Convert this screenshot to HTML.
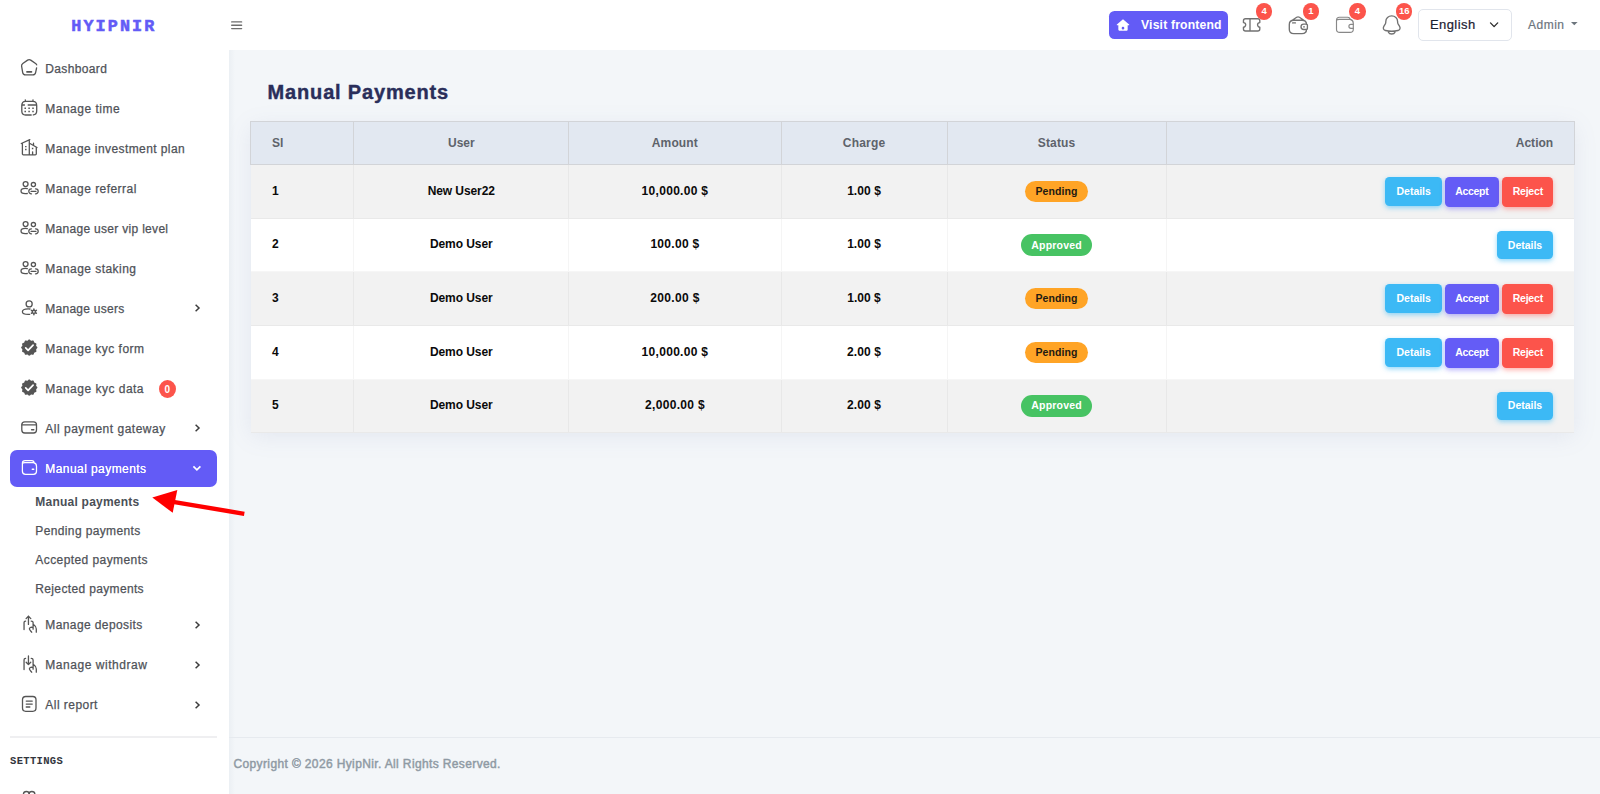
<!DOCTYPE html>
<html lang="en"><head><meta charset="utf-8"><title>Manual Payments</title>
<style>
html,body{margin:0;padding:0}
body{width:1600px;height:794px;overflow:hidden;position:relative;background:#f3f6f9;font-family:"Liberation Sans",sans-serif}
.page,.page *{position:absolute;box-sizing:border-box;margin:0;padding:0;border:0}
ul,li{list-style:none}
a{text-decoration:none;color:inherit}
.t{white-space:nowrap;line-height:20px;height:20px;font-style:normal}
.i{left:0;top:0;overflow:visible}
.sidebar{background:#fff}
.sbshadow{background:linear-gradient(90deg,rgba(170,185,200,.11),rgba(180,190,200,0))}
.topbar{background:#fff}
.plain{background:none}
.active{border-radius:7px;background:#635bf6}
.rb{border-radius:50%;background:#fc544b}
.hr{background:#efeff1}
.vbtn{border-radius:5.5px;background:#635bf6}
.sel{border:1px solid #e1e5ec;border-radius:5px;background:#fff}
.thead{border:1px solid #d2d4d8;background:#e2e8f1}
.th{border-left:1px solid #d2d4d8}
.th.first,.td.first{border-left:0}
.tr{background:#fff;border-bottom:1px solid rgba(0,0,0,.035)}
.tr.odd{background:#f2f2f2}
.td{border-left:1px solid rgba(0,0,0,.04)}
.tblshadow{box-shadow:0 4px 22px rgba(120,130,175,.13)}
.pill{border-radius:11px}
.warn{background:#ffa426}
.ok{background:#47c363}
.btn{border-radius:4.5px}
.b-info{background:#3cb9f5;box-shadow:0 2px 5px rgba(60,185,245,.55)}
.b-pri{background:#645cf6;box-shadow:0 2px 5px rgba(100,92,246,.45)}
.b-dan{background:#fc544b;box-shadow:0 2px 5px rgba(252,84,75,.45)}
.footer{border-top:1px solid #e6eaef}
</style></head>
<body>
<div class="page" style="left:0px;top:0px;width:1600px;height:794px;"><aside class="sidebar" style="left:0px;top:0px;width:229px;height:794px;"><a class="logo" style="left:0px;top:0px;width:229px;height:50px;"><span class="t" style="top:16.9px;font-size:16.8px;font-weight:700;color:#635bf6;font-family:'Liberation Mono', monospace;letter-spacing:2.08px;left:71.3px;-webkit-text-stroke:.55px #635bf6;">HYIPNIR</span></a><ul class="nav" style="left:0px;top:50px;width:229px;height:744px;"><li style="left:0px;top:-2px;width:229px;height:40px;"><a style="left:0px;top:0px;width:229px;height:40px;"><svg class="i" width="229" height="40" viewBox="0 48 229 40" fill="none" stroke="#555" stroke-width="1.3" stroke-linecap="round" stroke-linejoin="round"><path d="M36.6 67.8L35.6 72.6C35.3 74.2 34.4 74.9 32.8 74.9H25.5C23.9 74.9 23 74.2 22.7 72.6L21.6 66.2C21.4 65 21.8 64.2 22.8 63.5L27.6 60.1C28.6 59.4 29.7 59.4 30.7 60.1L35.6 63.5C36.2 63.9 36.5 64.3 36.7 64.9"/><path stroke-width="1.6" d="M26.9 71.9H31.5"/></svg><span class="t" style="top:10.9px;font-size:12px;color:#4f5258;letter-spacing:0.35px;left:45.3px;-webkit-text-stroke:.25px;">Dashboard</span></a></li>
<li style="left:0px;top:38px;width:229px;height:40px;"><a style="left:0px;top:0px;width:229px;height:40px;"><svg class="i" width="229" height="40" viewBox="0 88 229 40" fill="none" stroke="#555" stroke-width="1.3" stroke-linecap="round" stroke-linejoin="round"><path d="M31.2 115H25.6C22.9 115 21.8 113.8 21.8 111V105.4C21.8 102.5 22.9 101.3 25.6 101.3H32.9C35.6 101.3 36.7 102.5 36.7 105.4V111C36.7 113.3 35.9 114.6 33.3 114.95M25.3 101.4V99.8M33 101.4V99.8"/><path stroke-width="1.5" stroke-linecap="butt" d="M21.9 104.9H24.9M27.7 104.9H36.6"/><path stroke-width="1.5" stroke-linecap="square" d="M25.2 108.2h.01M29.1 108.2h.01M33 108.2h.01M25.2 111.4h.01M29.1 111.4h.01M33 111.4h.01"/></svg><span class="t" style="top:10.9px;font-size:12px;color:#4f5258;letter-spacing:0.49px;left:45.3px;-webkit-text-stroke:.25px;">Manage time</span></a></li>
<li style="left:0px;top:78px;width:229px;height:40px;"><a style="left:0px;top:0px;width:229px;height:40px;"><svg class="i" width="229" height="40" viewBox="0 128 229 40" fill="none" stroke="#555" stroke-width="1.3" stroke-linecap="round" stroke-linejoin="round"><path d="M22.4 154V143.9M21.3 143.5L29.8 139.6M29.3 139.9V154.8M29.5 143.3L37 147.5M36.3 147.3V154M33.5 145.2V143.2M23.4 154.8H35.3M22.4 154Q22.4 154.8 23.4 154.8M36.3 154Q36.3 154.8 35.3 154.8M32.6 154.6V151.8"/><path stroke-width="1.45" stroke-linecap="square" d="M25.8 146.6h.01M25.8 149.5h.01M32.6 148.5h.01"/></svg><span class="t" style="top:10.9px;font-size:12px;color:#4f5258;letter-spacing:0.41px;left:45.3px;-webkit-text-stroke:.25px;">Manage investment plan</span></a></li>
<li style="left:0px;top:118px;width:229px;height:40px;"><a style="left:0px;top:0px;width:229px;height:40px;"><svg class="i" width="229" height="40" viewBox="0 168 229 40" fill="none" stroke="#555" stroke-width="1.3" stroke-linecap="round" stroke-linejoin="round"><circle cx="25.6" cy="184.1" r="2.45"/><circle cx="33.4" cy="184.6" r="2.1"/><path d="M27.3 188.7C26.6 188.5 26 188.45 25.2 188.45C22.8 188.45 21 189.5 21 191.1C21 192.7 22.8 193.7 25.2 193.7C26 193.7 26.6 193.65 27.3 193.5"/><path d="M31.5 188.8h-.2a2.5 2.5 0 0 0 0 5h.2M35.5 188.8h.2a2.5 2.5 0 0 1 0 5h-.2M31 191.3h5"/></svg><span class="t" style="top:10.9px;font-size:12px;color:#4f5258;letter-spacing:0.45px;left:45.3px;-webkit-text-stroke:.25px;">Manage referral</span></a></li>
<li style="left:0px;top:158px;width:229px;height:40px;"><a style="left:0px;top:0px;width:229px;height:40px;"><svg class="i" width="229" height="40" viewBox="0 208 229 40" fill="none" stroke="#555" stroke-width="1.3" stroke-linecap="round" stroke-linejoin="round"><circle cx="25.6" cy="224.1" r="2.45"/><circle cx="33.4" cy="224.6" r="2.1"/><path d="M27.3 228.7C26.6 228.5 26 228.45 25.2 228.45C22.8 228.45 21 229.5 21 231.1C21 232.7 22.8 233.7 25.2 233.7C26 233.7 26.6 233.65 27.3 233.5"/><path d="M31.5 228.8h-.2a2.5 2.5 0 0 0 0 5h.2M35.5 228.8h.2a2.5 2.5 0 0 1 0 5h-.2M31 231.3h5"/></svg><span class="t" style="top:10.9px;font-size:12px;color:#4f5258;letter-spacing:0.3px;left:45.3px;-webkit-text-stroke:.25px;">Manage user vip level</span></a></li>
<li style="left:0px;top:198px;width:229px;height:40px;"><a style="left:0px;top:0px;width:229px;height:40px;"><svg class="i" width="229" height="40" viewBox="0 248 229 40" fill="none" stroke="#555" stroke-width="1.3" stroke-linecap="round" stroke-linejoin="round"><circle cx="25.6" cy="264.1" r="2.45"/><circle cx="33.4" cy="264.6" r="2.1"/><path d="M27.3 268.7C26.6 268.5 26 268.45 25.2 268.45C22.8 268.45 21 269.5 21 271.1C21 272.7 22.8 273.7 25.2 273.7C26 273.7 26.6 273.65 27.3 273.5"/><path d="M31.5 268.8h-.2a2.5 2.5 0 0 0 0 5h.2M35.5 268.8h.2a2.5 2.5 0 0 1 0 5h-.2M31 271.3h5"/></svg><span class="t" style="top:10.9px;font-size:12px;color:#4f5258;letter-spacing:0.46px;left:45.3px;-webkit-text-stroke:.25px;">Manage staking</span></a></li>
<li style="left:0px;top:238px;width:229px;height:40px;"><a style="left:0px;top:0px;width:229px;height:40px;"><svg class="i" width="229" height="40" viewBox="0 288 229 40" fill="none" stroke="#555" stroke-width="1.3" stroke-linecap="round" stroke-linejoin="round"><circle cx="29.15" cy="303.9" r="3.05"/><path d="M30 309C29.4 308.9 28.8 308.85 28.2 308.85C25 308.85 22.4 310 22.4 311.7C22.4 313.4 25 314.35 28.2 314.35C28.7 314.35 29.2 314.33 29.7 314.28"/><circle cx="33.9" cy="311.8" r="1.55" stroke-width="1.35"/><path stroke-width="1.45" d="M33.9 308.9v.9M33.9 313.8v.9M36.41 310.35l-.78.45M32.17 312.8l-.78.45M36.41 313.25l-.78-.45M32.17 310.8l-.78-.45"/><path stroke="#3d3d3d" stroke-width="1.5" stroke-linecap="butt" stroke-linejoin="miter" d="M195.6 304.8L199 308L195.6 311.2"/></svg><span class="t" style="top:10.9px;font-size:12px;color:#4f5258;letter-spacing:0.26px;left:45.3px;-webkit-text-stroke:.25px;">Manage users</span></a></li>
<li style="left:0px;top:278px;width:229px;height:40px;"><a style="left:0px;top:0px;width:229px;height:40px;"><svg class="i" width="229" height="40" viewBox="0 328 229 40" fill="none" stroke="#555" stroke-width="1.3" stroke-linecap="round" stroke-linejoin="round"><path fill="#555" stroke="none" d="M29.25 339.45L29.77 339.61L30.25 340.02L30.67 340.44L31.10 340.69L31.60 340.69L32.18 340.53L32.79 340.42L33.33 340.54L33.70 340.95L33.91 341.53L34.06 342.11L34.31 342.54L34.74 342.79L35.32 342.94L35.90 343.15L36.31 343.53L36.43 344.06L36.32 344.67L36.16 345.25L36.16 345.75L36.41 346.18L36.83 346.60L37.24 347.08L37.40 347.60L37.24 348.12L36.83 348.60L36.41 349.02L36.16 349.45L36.16 349.95L36.32 350.53L36.43 351.14L36.31 351.68L35.90 352.05L35.32 352.26L34.74 352.41L34.31 352.66L34.06 353.09L33.91 353.67L33.70 354.25L33.33 354.66L32.79 354.78L32.18 354.67L31.60 354.51L31.10 354.51L30.67 354.76L30.25 355.18L29.77 355.59L29.25 355.75L28.73 355.59L28.25 355.18L27.83 354.76L27.40 354.51L26.90 354.51L26.32 354.67L25.71 354.78L25.18 354.66L24.80 354.25L24.59 353.67L24.44 353.09L24.19 352.66L23.76 352.41L23.18 352.26L22.60 352.05L22.19 351.68L22.07 351.14L22.18 350.53L22.34 349.95L22.34 349.45L22.09 349.02L21.67 348.60L21.26 348.12L21.10 347.60L21.26 347.08L21.67 346.60L22.09 346.18L22.34 345.75L22.34 345.25L22.18 344.67L22.07 344.06L22.19 343.53L22.60 343.15L23.18 342.94L23.76 342.79L24.19 342.54L24.44 342.11L24.59 341.53L24.80 340.95L25.17 340.54L25.71 340.42L26.32 340.53L26.90 340.69L27.40 340.69L27.83 340.44L28.25 340.02L28.73 339.61Z"/><path stroke="#fff" stroke-width="1.7" d="M25.7 347.9l2.4 2.4 5-5.1"/></svg><span class="t" style="top:10.9px;font-size:12px;color:#4f5258;letter-spacing:0.48px;left:45.3px;-webkit-text-stroke:.25px;">Manage kyc form</span></a></li>
<li style="left:0px;top:318px;width:229px;height:40px;"><a style="left:0px;top:0px;width:229px;height:40px;"><svg class="i" width="229" height="40" viewBox="0 368 229 40" fill="none" stroke="#555" stroke-width="1.3" stroke-linecap="round" stroke-linejoin="round"><path fill="#555" stroke="none" d="M29.25 379.45L29.77 379.61L30.25 380.02L30.67 380.44L31.10 380.69L31.60 380.69L32.18 380.53L32.79 380.42L33.33 380.54L33.70 380.95L33.91 381.53L34.06 382.11L34.31 382.54L34.74 382.79L35.32 382.94L35.90 383.15L36.31 383.53L36.43 384.06L36.32 384.67L36.16 385.25L36.16 385.75L36.41 386.18L36.83 386.60L37.24 387.08L37.40 387.60L37.24 388.12L36.83 388.60L36.41 389.02L36.16 389.45L36.16 389.95L36.32 390.53L36.43 391.14L36.31 391.68L35.90 392.05L35.32 392.26L34.74 392.41L34.31 392.66L34.06 393.09L33.91 393.67L33.70 394.25L33.33 394.66L32.79 394.78L32.18 394.67L31.60 394.51L31.10 394.51L30.67 394.76L30.25 395.18L29.77 395.59L29.25 395.75L28.73 395.59L28.25 395.18L27.83 394.76L27.40 394.51L26.90 394.51L26.32 394.67L25.71 394.78L25.18 394.66L24.80 394.25L24.59 393.67L24.44 393.09L24.19 392.66L23.76 392.41L23.18 392.26L22.60 392.05L22.19 391.68L22.07 391.14L22.18 390.53L22.34 389.95L22.34 389.45L22.09 389.02L21.67 388.60L21.26 388.12L21.10 387.60L21.26 387.08L21.67 386.60L22.09 386.18L22.34 385.75L22.34 385.25L22.18 384.67L22.07 384.06L22.19 383.53L22.60 383.15L23.18 382.94L23.76 382.79L24.19 382.54L24.44 382.11L24.59 381.53L24.80 380.95L25.17 380.54L25.71 380.42L26.32 380.53L26.90 380.69L27.40 380.69L27.83 380.44L28.25 380.02L28.73 379.61Z"/><path stroke="#fff" stroke-width="1.7" d="M25.7 387.9l2.4 2.4 5-5.1"/></svg><span class="t" style="top:10.9px;font-size:12px;color:#4f5258;letter-spacing:0.49px;left:45.3px;-webkit-text-stroke:.25px;">Manage kyc data</span><span class="rb" style="left:158.9px;top:11.9px;width:17px;height:18.2px;"><span class="t" style="top:-0.3px;font-size:10px;font-weight:700;color:#fff;left:-191.5px;width:400px;text-align:center;">0</span></span></a></li>
<li style="left:0px;top:358px;width:229px;height:40px;"><a style="left:0px;top:0px;width:229px;height:40px;"><svg class="i" width="229" height="40" viewBox="0 408 229 40" fill="none" stroke="#555" stroke-width="1.3" stroke-linecap="round" stroke-linejoin="round"><rect x="21.8" y="421.8" width="14.7" height="11.2" rx="3"/><path stroke-width="1.35" d="M22 424.9H36.3"/><path stroke-width="1.4" d="M31.6 429.7H33.8"/><path stroke="#3d3d3d" stroke-width="1.5" stroke-linecap="butt" stroke-linejoin="miter" d="M195.6 424.8L199 428L195.6 431.2"/></svg><span class="t" style="top:10.9px;font-size:12px;color:#4f5258;letter-spacing:0.51px;left:45.3px;-webkit-text-stroke:.25px;">All payment gateway</span></a></li>
<li style="left:0px;top:398px;width:229px;height:40px;"><a class="active" style="left:10px;top:2px;width:206.5px;height:36.5px;"><svg class="i" width="206.5" height="36.5" viewBox="10 450 206.5 36.5" fill="none" stroke="#fff" stroke-width="1.3" stroke-linecap="round" stroke-linejoin="round"><path stroke-width="1.25" d="M22.4 463.3C22.4 461.5 23.4 460.6 25.2 460.6H31.8C33.3 460.6 34.1 461.4 34.1 462.9C35.8 463.3 36.5 464.5 36.5 466.2V471.3C36.5 473.3 35.4 474.3 33.4 474.3H25.5C23.5 474.3 22.4 473.3 22.4 471.3ZM22.5 463.3C23 462.8 23.8 462.6 24.8 462.6H34"/><path stroke-width="1.5" d="M32.3 469.3H33.7"/><path stroke-width="1.7" stroke-linecap="butt" stroke-linejoin="miter" d="M193.4 466.4L196.9 469.9L200.4 466.4"/></svg><span class="t" style="top:8.8px;font-size:12px;color:#fff;letter-spacing:0.43px;left:35.3px;text-shadow:0 0 .4px #fff;">Manual payments</span></a><ul class="sub" style="left:0px;top:39px;width:229px;height:117px;"><li style="left:0px;top:0.7px;width:229px;height:29px;"><a style="left:0px;top:0px;width:229px;height:29px;"><span class="t" style="top:4.5px;font-size:12px;font-weight:700;color:#4a4f57;letter-spacing:0.23px;left:35.3px;">Manual payments</span></a></li>
<li style="left:0px;top:29.9px;width:229px;height:29px;"><a style="left:0px;top:0px;width:229px;height:29px;"><span class="t" style="top:4.5px;font-size:12px;color:#4f5258;letter-spacing:0.37px;left:35.3px;-webkit-text-stroke:.25px;">Pending payments</span></a></li>
<li style="left:0px;top:58.7px;width:229px;height:29px;"><a style="left:0px;top:0px;width:229px;height:29px;"><span class="t" style="top:4.5px;font-size:12px;color:#4f5258;letter-spacing:0.42px;left:35.3px;-webkit-text-stroke:.25px;">Accepted payments</span></a></li>
<li style="left:0px;top:87.8px;width:229px;height:29px;"><a style="left:0px;top:0px;width:229px;height:29px;"><span class="t" style="top:4.5px;font-size:12px;color:#4f5258;letter-spacing:0.35px;left:35.3px;-webkit-text-stroke:.25px;">Rejected payments</span></a></li>
</ul></li>
<li style="left:0px;top:555px;width:229px;height:40px;"><a style="left:0px;top:0px;width:229px;height:40px;"><svg class="i" width="229" height="40" viewBox="0 605 229 40" fill="none" stroke="#555" stroke-width="1.3" stroke-linecap="round" stroke-linejoin="round"><path d="M25.6 621.1Q24.05 621.2 24.05 622.4V629.6M28.45 616.1V624.4M26.1 618.6L28.45 616.1L30.8 618.6M31.2 621.1Q33.1 621.2 33.1 622.6V629.2M33.3 624.2C35 625.4 36.3 627 36.3 629V632.2M33 627.5C31.5 626.9 29.7 627.5 29.4 628.7C29.2 629.8 30.5 630.8 31.7 632.2"/><path stroke="#3d3d3d" stroke-width="1.5" stroke-linecap="butt" stroke-linejoin="miter" d="M195.6 621.8L199 625L195.6 628.2"/></svg><span class="t" style="top:10.3px;font-size:12px;color:#4f5258;letter-spacing:0.4px;left:45.3px;-webkit-text-stroke:.25px;">Manage deposits</span></a></li>
<li style="left:0px;top:595px;width:229px;height:40px;"><a style="left:0px;top:0px;width:229px;height:40px;"><svg class="i" width="229" height="40" viewBox="0 645 229 40" fill="none" stroke="#555" stroke-width="1.3" stroke-linecap="round" stroke-linejoin="round"><path d="M25.6 658.4Q24.05 658.5 24.05 659.7V669.6M28.45 656V664.5M26.15 662.2L28.45 664.6L30.75 662.2M31.2 658.4Q33.1 658.5 33.1 659.9V669.2M33.3 664.2C35 665.4 36.3 667 36.3 669V672.2M33 667.5C31.5 666.9 29.7 667.5 29.4 668.7C29.2 669.8 30.5 670.8 31.7 672.2"/><path stroke="#3d3d3d" stroke-width="1.5" stroke-linecap="butt" stroke-linejoin="miter" d="M195.6 661.8L199 665L195.6 668.2"/></svg><span class="t" style="top:10.3px;font-size:12px;color:#4f5258;letter-spacing:0.54px;left:45.3px;-webkit-text-stroke:.25px;">Manage withdraw</span></a></li>
<li style="left:0px;top:635px;width:229px;height:40px;"><a style="left:0px;top:0px;width:229px;height:40px;"><svg class="i" width="229" height="40" viewBox="0 685 229 40" fill="none" stroke="#555" stroke-width="1.3" stroke-linecap="round" stroke-linejoin="round"><rect x="22.5" y="696.5" width="13.5" height="14.8" rx="3.2"/><path stroke-width="1.45" d="M26.3 701.1H32.2M26.3 704.1H32.2M26.3 707H29.8"/><path stroke="#3d3d3d" stroke-width="1.5" stroke-linecap="butt" stroke-linejoin="miter" d="M195.6 701.8L199 705L195.6 708.2"/></svg><span class="t" style="top:10.3px;font-size:12px;color:#4f5258;letter-spacing:0.46px;left:45.3px;-webkit-text-stroke:.25px;">All report</span></a></li>
</ul><hr class="hr" style="left:10px;top:736px;width:207px;height:1.5px;"></hr><h6 class="sect" style="left:0px;top:745px;width:229px;height:32px;"><span class="t" style="top:6.3px;font-size:10.5px;font-weight:700;color:#33363d;font-family:'Liberation Mono', monospace;letter-spacing:0.33px;left:10px;">SETTINGS</span></h6><a style="left:0px;top:780px;width:229px;height:14px;"><svg class="i" width="229" height="14" viewBox="0 780 229 14" fill="none" stroke="#555" stroke-width="1.3" stroke-linecap="round" stroke-linejoin="round"><circle cx="26.4" cy="794.5" r="3"/><circle cx="31.9" cy="794.5" r="3"/></svg></a></aside>
<header class="topbar" style="left:229px;top:0px;width:1371px;height:50px;"><button class="plain" style="left:0px;top:15px;width:20px;height:20px;"><svg class="i" width="20" height="20" viewBox="229 15 20 20" fill="none" stroke="#6e6e6e" stroke-width="1.4" stroke-linecap="round" stroke-linejoin="round" stroke-linecap="butt"><path d="M231.7 21.9H241.6M231.7 25.25H241.6M231.7 28.6H241.6"/></svg></button><a class="vbtn" style="left:880px;top:11px;width:119px;height:28px;"><svg class="i" style="left:7px;top:7px" width="14" height="14" viewBox="0 0 24 24"><path fill="#fff" fill-rule="evenodd" d="M12 2.2 1.5 11.3c-.5.5-.2 1.3.5 1.3H4v7.6c0 .9.7 1.6 1.6 1.6h12.800c.9 0 1.6-.7 1.6-1.6v-7.6h2c.7 0 1-.8.5-1.3L12 2.2ZM12 15.2a2.3 2.3 0 1 0 0 4.6a2.3 2.3 0 1 0 0-4.6Z"/></svg><span class="t" style="top:4.1px;font-size:12.2px;font-weight:700;color:#fff;letter-spacing:0.17px;left:32px;">Visit frontend</span></a><a style="left:1007px;top:0px;width:40px;height:50px;"><svg class="i" width="40" height="50" viewBox="1236 0 40 50" fill="none" stroke="#717171" stroke-width="1.35" stroke-linecap="round" stroke-linejoin="round"><path d="M1245.5 18.7H1257.8Q1259.8 18.7 1259.8 20.7V22.6A2.25 2.25 0 0 0 1259.8 27.1V29Q1259.8 31 1257.8 31H1245.5Q1243.45 31 1243.45 29V27.1A2.25 2.25 0 0 0 1243.45 22.6V20.7Q1243.45 18.7 1245.5 18.7ZM1250 18.7V31"/></svg><span class="rb" style="left:19.85px;top:3px;width:16.5px;height:16.5px;"><span class="t" style="top:-1.6px;font-size:9.5px;font-weight:700;color:#fff;left:-191.75px;width:400px;text-align:center;">4</span></span></a><a style="left:1053px;top:0px;width:40px;height:50px;"><svg class="i" width="40" height="50" viewBox="1282 0 40 50" fill="none" stroke="#717171" stroke-width="1.35" stroke-linecap="round" stroke-linejoin="round"><path d="M1293.8 20.2H1302C1305 20.2 1306.5 21.7 1306.5 24.3M1306.5 29.5C1306.5 32.2 1305 33.6 1302 33.6H1293.8C1290.8 33.6 1289.3 32.2 1289.3 29.2V24.6C1289.3 21.7 1290.8 20.2 1293.8 20.2M1292.6 20L1296.7 17.3C1297.6 16.7 1298.5 16.7 1299.4 17.3L1303.5 20M1292.6 22.9H1295.4"/><path d="M1303.8 24.1H1306.3C1306.9 24.1 1307.4 24.5 1307.4 25.1V28.5C1307.4 29.1 1306.9 29.5 1306.3 29.5H1303.8C1302.2 29.5 1301 28.3 1301 26.8C1301 25.3 1302.2 24.1 1303.8 24.1Z"/><path stroke-width="1.7" d="M1304 26.8h.01"/></svg><span class="rb" style="left:20.55px;top:3px;width:16.5px;height:16.5px;"><span class="t" style="top:-1.6px;font-size:9.5px;font-weight:700;color:#fff;left:-191.75px;width:400px;text-align:center;">1</span></span></a><a style="left:1100px;top:0px;width:40px;height:50px;"><svg class="i" width="40" height="50" viewBox="1329 0 40 50" fill="none" stroke="#717171" stroke-width="1.35" stroke-linecap="round" stroke-linejoin="round"><g stroke="#888" stroke-width="1.15"><path d="M1336.5 20.2C1336.5 18.2 1337.5 17.2 1339.5 17.2H1347.6C1349.3 17.2 1350.1 18 1350.2 19.4C1352.3 19.9 1353.3 21.2 1353.3 23.3V29.2C1353.3 31.4 1352.2 32.4 1350 32.4H1339.8C1337.6 32.4 1336.5 31.4 1336.5 29.2ZM1336.6 20.2C1337.2 19.6 1338 19.3 1339.2 19.3H1350.1"/><path d="M1353.3 24.3H1350.9C1349.7 24.3 1348.9 25.2 1348.9 26.3C1348.9 27.4 1349.7 28.3 1350.9 28.3H1353.3"/></g></svg><span class="rb" style="left:20.25px;top:3px;width:16.5px;height:16.5px;"><span class="t" style="top:-1.6px;font-size:9.5px;font-weight:700;color:#fff;left:-191.75px;width:400px;text-align:center;">4</span></span></a><a style="left:1147px;top:0px;width:40px;height:50px;"><svg class="i" width="40" height="50" viewBox="1376 0 40 50" fill="none" stroke="#717171" stroke-width="1.35" stroke-linecap="round" stroke-linejoin="round"><path d="M1397.6 22V21.4C1397.6 18.2 1395 15.85 1391.7 15.85C1388.4 15.85 1385.8 18.2 1385.8 21.4V22C1385.8 22.8 1385.6 23.5 1385.2 24.2L1384.1 25.9C1382.7 28.1 1383.3 30 1385.4 30.5C1389.6 31.5 1393.8 31.5 1398 30.5C1400.1 30 1400.7 28.1 1399.3 25.9L1398.2 24.2C1397.8 23.5 1397.6 22.8 1397.6 22ZM1388.4 32.2C1388.9 33.3 1390.2 34 1391.7 34C1393.2 34 1394.5 33.3 1395 32.2"/></svg><span class="rb" style="left:19.95px;top:3px;width:16.5px;height:16.5px;"><span class="t" style="top:-1.6px;font-size:9.5px;font-weight:700;color:#fff;left:-191.75px;width:400px;text-align:center;">16</span></span></a><div class="sel" style="left:1189px;top:9px;width:93.5px;height:32px;" role="combobox"><span class="t" style="top:5.4px;font-size:13px;color:#1b2130;letter-spacing:0.44px;left:10.9px;-webkit-text-stroke:.2px;">English</span><svg class="i" style="left:69px;top:10px" width="12" height="10" viewBox="1488 20 12 10"><path d="M1490.5 22.9 1494.1 26.6l3.6-3.7" stroke="#2b2b2b" stroke-width="1.35" fill="none" stroke-linecap="round" stroke-linejoin="round"/></svg></div><a style="left:1291px;top:10px;width:64px;height:30px;"><span class="t" style="top:5.2px;font-size:12px;color:#6c757d;letter-spacing:0.5px;left:8px;-webkit-text-stroke:.2px;">Admin</span><svg class="i" style="left:51px;top:12.1px" width="7" height="4" viewBox="0 0 7 4"><path d="M0 0h6.6L3.3 3.3Z" fill="#6c757d"/></svg></a></header>
<main class="main" style="left:229px;top:50px;width:1371px;height:744px;"><div class="sbshadow" style="left:0px;top:0px;width:6px;height:744px;"></div><h1 style="left:21px;top:26px;width:400px;height:32px;"><span class="t" style="top:6px;font-size:20px;font-weight:700;color:#2a2e5a;letter-spacing:0.83px;left:17.6px;-webkit-text-stroke:.4px;">Manual Payments</span></h1><div class="table" style="left:21px;top:71px;width:1325px;height:311.5px;" role="table"><div class="tblshadow" style="left:1px;top:2px;width:1323px;height:309px;"></div><div class="thead" style="left:0px;top:0px;width:1325px;height:44px;" role="row">
<div class="th first" style="left:0px;top:0px;width:102px;height:42px;" role="columnheader"><span class="t" style="top:10.8px;font-size:12px;font-weight:700;color:#5e636b;left:21px;">Sl</span></div><div class="th" style="left:102px;top:0px;width:215px;height:42px;" role="columnheader"><span class="t" style="top:10.8px;font-size:12px;font-weight:700;color:#5e636b;letter-spacing:0px;left:-92.7px;width:400px;text-align:center;">User</span></div><div class="th" style="left:317px;top:0px;width:213px;height:42px;" role="columnheader"><span class="t" style="top:10.8px;font-size:12px;font-weight:700;color:#5e636b;letter-spacing:0.13px;left:-94.13px;width:400px;text-align:center;">Amount</span></div><div class="th" style="left:530px;top:0px;width:166px;height:42px;" role="columnheader"><span class="t" style="top:10.8px;font-size:12px;font-weight:700;color:#5e636b;letter-spacing:0.23px;left:-117.88px;width:400px;text-align:center;">Charge</span></div><div class="th" style="left:696px;top:0px;width:219px;height:42px;" role="columnheader"><span class="t" style="top:10.8px;font-size:12px;font-weight:700;color:#5e636b;letter-spacing:0.16px;left:-91.42px;width:400px;text-align:center;">Status</span></div><div class="th" style="left:915px;top:0px;width:408px;height:42px;" role="columnheader"><span class="t" style="top:10.8px;font-size:12px;font-weight:700;color:#5e636b;letter-spacing:0.03px;left:-13.77px;width:400px;text-align:right;">Action</span></div></div><div class="tr odd" style="left:0.5px;top:44px;width:1323.5px;height:54px;" role="row">
<div class="td first" style="left:0px;top:0px;width:102.5px;height:53px;" role="cell"><span class="t" style="top:15.6px;font-size:12px;font-weight:700;color:#0a0a0a;left:21.5px;">1</span></div><div class="td" style="left:102.5px;top:0px;width:215px;height:53px;" role="cell"><span class="t" style="top:15.6px;font-size:12px;font-weight:700;color:#0a0a0a;letter-spacing:-0.08px;left:-92.74px;width:400px;text-align:center;">New User22</span></div><div class="td" style="left:317.5px;top:0px;width:213px;height:53px;" role="cell"><span class="t" style="top:15.6px;font-size:12px;font-weight:700;color:#0a0a0a;letter-spacing:0.31px;left:-94.05px;width:400px;text-align:center;">10,000.00 $</span></div><div class="td" style="left:530.5px;top:0px;width:166px;height:53px;" role="cell"><span class="t" style="top:15.6px;font-size:12px;font-weight:700;color:#0a0a0a;letter-spacing:0.07px;left:-117.97px;width:400px;text-align:center;">1.00 $</span></div><div class="td" style="left:696.5px;top:0px;width:219px;height:53px;" role="cell"><span class="pill warn" style="left:77px;top:15.6px;width:63px;height:21.8px;"><span class="t" style="top:0.5px;font-size:10.5px;font-weight:700;color:#231b12;letter-spacing:0.1px;left:-168.45px;width:400px;text-align:center;">Pending</span></span></div><div class="td" style="left:915.5px;top:0px;width:408px;height:53px;" role="cell"><a class="btn b-info" style="left:218px;top:12.3px;width:56.5px;height:28.3px;"><span class="t" style="top:3.9px;font-size:10.5px;font-weight:700;color:#fff;letter-spacing:-0.02px;left:-171.31px;width:400px;text-align:center;">Details</span></a><a class="btn b-pri" style="left:278px;top:11.8px;width:54px;height:30px;"><span class="t" style="top:4.4px;font-size:10.5px;font-weight:700;color:#fff;letter-spacing:-0.34px;left:-173.17px;width:400px;text-align:center;">Accept</span></a><a class="btn b-dan" style="left:335.3px;top:11.8px;width:51px;height:30px;"><span class="t" style="top:4.4px;font-size:10.5px;font-weight:700;color:#fff;letter-spacing:-0.2px;left:-174.5px;width:400px;text-align:center;">Reject</span></a></div></div><div class="tr" style="left:0.5px;top:98px;width:1323.5px;height:53px;" role="row">
<div class="td first" style="left:0px;top:0px;width:102.5px;height:52px;" role="cell"><span class="t" style="top:15.1px;font-size:12px;font-weight:700;color:#0a0a0a;left:21.5px;">2</span></div><div class="td" style="left:102.5px;top:0px;width:215px;height:52px;" role="cell"><span class="t" style="top:15.1px;font-size:12px;font-weight:700;color:#0a0a0a;letter-spacing:-0.08px;left:-92.74px;width:400px;text-align:center;">Demo User</span></div><div class="td" style="left:317.5px;top:0px;width:213px;height:52px;" role="cell"><span class="t" style="top:15.1px;font-size:12px;font-weight:700;color:#0a0a0a;letter-spacing:0.3px;left:-94.05px;width:400px;text-align:center;">100.00 $</span></div><div class="td" style="left:530.5px;top:0px;width:166px;height:52px;" role="cell"><span class="t" style="top:15.1px;font-size:12px;font-weight:700;color:#0a0a0a;letter-spacing:0.07px;left:-117.97px;width:400px;text-align:center;">1.00 $</span></div><div class="td" style="left:696.5px;top:0px;width:219px;height:52px;" role="cell"><span class="pill ok" style="left:73px;top:15.1px;width:71px;height:21.8px;"><span class="t" style="top:0.5px;font-size:10.5px;font-weight:700;color:#fff;letter-spacing:0.18px;left:-164.41px;width:400px;text-align:center;">Approved</span></span></div><div class="td" style="left:915.5px;top:0px;width:408px;height:52px;" role="cell"><a class="btn b-info" style="left:329.5px;top:11.9px;width:56.5px;height:28px;"><span class="t" style="top:3.8px;font-size:10.5px;font-weight:700;color:#fff;letter-spacing:-0.02px;left:-171.51px;width:400px;text-align:center;">Details</span></a></div></div><div class="tr odd" style="left:0.5px;top:151px;width:1323.5px;height:54px;" role="row">
<div class="td first" style="left:0px;top:0px;width:102.5px;height:53px;" role="cell"><span class="t" style="top:15.6px;font-size:12px;font-weight:700;color:#0a0a0a;left:21.5px;">3</span></div><div class="td" style="left:102.5px;top:0px;width:215px;height:53px;" role="cell"><span class="t" style="top:15.6px;font-size:12px;font-weight:700;color:#0a0a0a;letter-spacing:-0.08px;left:-92.74px;width:400px;text-align:center;">Demo User</span></div><div class="td" style="left:317.5px;top:0px;width:213px;height:53px;" role="cell"><span class="t" style="top:15.6px;font-size:12px;font-weight:700;color:#0a0a0a;letter-spacing:0.34px;left:-94.03px;width:400px;text-align:center;">200.00 $</span></div><div class="td" style="left:530.5px;top:0px;width:166px;height:53px;" role="cell"><span class="t" style="top:15.6px;font-size:12px;font-weight:700;color:#0a0a0a;letter-spacing:0.03px;left:-117.99px;width:400px;text-align:center;">1.00 $</span></div><div class="td" style="left:696.5px;top:0px;width:219px;height:53px;" role="cell"><span class="pill warn" style="left:77px;top:15.6px;width:63px;height:21.8px;"><span class="t" style="top:0.5px;font-size:10.5px;font-weight:700;color:#231b12;letter-spacing:0.1px;left:-168.45px;width:400px;text-align:center;">Pending</span></span></div><div class="td" style="left:915.5px;top:0px;width:408px;height:53px;" role="cell"><a class="btn b-info" style="left:218px;top:12.3px;width:56.5px;height:28.3px;"><span class="t" style="top:3.9px;font-size:10.5px;font-weight:700;color:#fff;letter-spacing:-0.02px;left:-171.31px;width:400px;text-align:center;">Details</span></a><a class="btn b-pri" style="left:278px;top:11.8px;width:54px;height:30px;"><span class="t" style="top:4.4px;font-size:10.5px;font-weight:700;color:#fff;letter-spacing:-0.34px;left:-173.17px;width:400px;text-align:center;">Accept</span></a><a class="btn b-dan" style="left:335.3px;top:11.8px;width:51px;height:30px;"><span class="t" style="top:4.4px;font-size:10.5px;font-weight:700;color:#fff;letter-spacing:-0.2px;left:-174.5px;width:400px;text-align:center;">Reject</span></a></div></div><div class="tr" style="left:0.5px;top:205px;width:1323.5px;height:54px;" role="row">
<div class="td first" style="left:0px;top:0px;width:102.5px;height:53px;" role="cell"><span class="t" style="top:15.6px;font-size:12px;font-weight:700;color:#0a0a0a;left:21.5px;">4</span></div><div class="td" style="left:102.5px;top:0px;width:215px;height:53px;" role="cell"><span class="t" style="top:15.6px;font-size:12px;font-weight:700;color:#0a0a0a;letter-spacing:-0.08px;left:-92.74px;width:400px;text-align:center;">Demo User</span></div><div class="td" style="left:317.5px;top:0px;width:213px;height:53px;" role="cell"><span class="t" style="top:15.6px;font-size:12px;font-weight:700;color:#0a0a0a;letter-spacing:0.31px;left:-94.05px;width:400px;text-align:center;">10,000.00 $</span></div><div class="td" style="left:530.5px;top:0px;width:166px;height:53px;" role="cell"><span class="t" style="top:15.6px;font-size:12px;font-weight:700;color:#0a0a0a;letter-spacing:0.09px;left:-117.96px;width:400px;text-align:center;">2.00 $</span></div><div class="td" style="left:696.5px;top:0px;width:219px;height:53px;" role="cell"><span class="pill warn" style="left:77px;top:15.6px;width:63px;height:21.8px;"><span class="t" style="top:0.5px;font-size:10.5px;font-weight:700;color:#231b12;letter-spacing:0.1px;left:-168.45px;width:400px;text-align:center;">Pending</span></span></div><div class="td" style="left:915.5px;top:0px;width:408px;height:53px;" role="cell"><a class="btn b-info" style="left:218px;top:12.3px;width:56.5px;height:28.3px;"><span class="t" style="top:3.9px;font-size:10.5px;font-weight:700;color:#fff;letter-spacing:-0.02px;left:-171.31px;width:400px;text-align:center;">Details</span></a><a class="btn b-pri" style="left:278px;top:11.8px;width:54px;height:30px;"><span class="t" style="top:4.4px;font-size:10.5px;font-weight:700;color:#fff;letter-spacing:-0.34px;left:-173.17px;width:400px;text-align:center;">Accept</span></a><a class="btn b-dan" style="left:335.3px;top:11.8px;width:51px;height:30px;"><span class="t" style="top:4.4px;font-size:10.5px;font-weight:700;color:#fff;letter-spacing:-0.2px;left:-174.5px;width:400px;text-align:center;">Reject</span></a></div></div><div class="tr odd" style="left:0.5px;top:259px;width:1323.5px;height:52.5px;" role="row">
<div class="td first" style="left:0px;top:0px;width:102.5px;height:51.5px;" role="cell"><span class="t" style="top:14.85px;font-size:12px;font-weight:700;color:#0a0a0a;left:21.5px;">5</span></div><div class="td" style="left:102.5px;top:0px;width:215px;height:51.5px;" role="cell"><span class="t" style="top:14.85px;font-size:12px;font-weight:700;color:#0a0a0a;letter-spacing:-0.08px;left:-92.74px;width:400px;text-align:center;">Demo User</span></div><div class="td" style="left:317.5px;top:0px;width:213px;height:51.5px;" role="cell"><span class="t" style="top:14.85px;font-size:12px;font-weight:700;color:#0a0a0a;letter-spacing:0.33px;left:-94.03px;width:400px;text-align:center;">2,000.00 $</span></div><div class="td" style="left:530.5px;top:0px;width:166px;height:51.5px;" role="cell"><span class="t" style="top:14.85px;font-size:12px;font-weight:700;color:#0a0a0a;letter-spacing:0.09px;left:-117.96px;width:400px;text-align:center;">2.00 $</span></div><div class="td" style="left:696.5px;top:0px;width:219px;height:51.5px;" role="cell"><span class="pill ok" style="left:73px;top:14.85px;width:71px;height:21.8px;"><span class="t" style="top:0.5px;font-size:10.5px;font-weight:700;color:#fff;letter-spacing:0.18px;left:-164.41px;width:400px;text-align:center;">Approved</span></span></div><div class="td" style="left:915.5px;top:0px;width:408px;height:51.5px;" role="cell"><a class="btn b-info" style="left:329.5px;top:11.65px;width:56.5px;height:28px;"><span class="t" style="top:3.8px;font-size:10.5px;font-weight:700;color:#fff;letter-spacing:-0.02px;left:-171.51px;width:400px;text-align:center;">Details</span></a></div></div></div><footer class="footer" style="left:0px;top:687px;width:1371px;height:57px;"><p class="t" style="top:15.9px;font-size:12px;color:#8f9aa4;letter-spacing:0.37px;left:4.5px;-webkit-text-stroke:.45px;">Copyright © 2026 HyipNir. All Rights Reserved.</p></footer></main><svg class="i" style="left:140px;top:480px" width="120" height="45" viewBox="140 480 120 45"><path d="M244.3 513.8 173 501.8" stroke="#f00" stroke-width="4.4" fill="none"/><path d="M152.3 497.6 177.3 490 172.700 512.8Z" fill="#f00"/></svg></div>
</body></html>
